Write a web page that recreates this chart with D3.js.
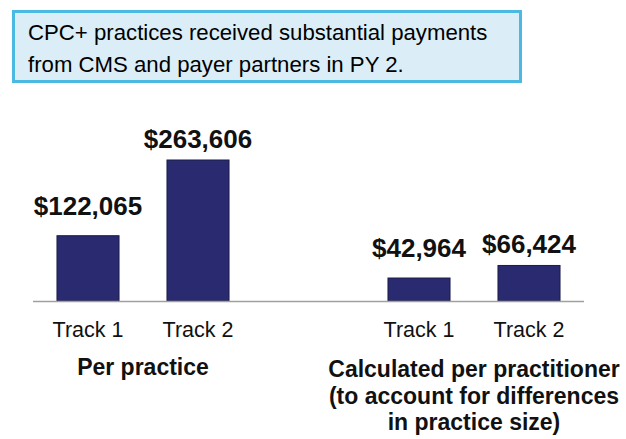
<!DOCTYPE html>
<html>
<head>
<meta charset="utf-8">
<script src="https://cdn.jsdelivr.net/npm/d3@7"></script>
<style>
  html, body { margin: 0; padding: 0; background: #fff; }
  svg { display: block; }
  text { font-family: "Liberation Sans", Arial, sans-serif; }
</style>
</head>
<body>
<svg id="chart" width="626" height="439"></svg>
<script>
// ---- data ----
const titleLines = ["CPC+ practices received substantial payments", "from CMS and payer partners in PY 2."];
const groups = ["Per practice", "Calculated per practitioner"];
const groupLabelLines = [
  ["Per practice"],
  ["Calculated per practitioner", "(to account for differences", "in practice size)"]
];
const tracks = ["Track 1", "Track 2"];
const perPractice = [122065, 263606];
const perPractitioner = [42964, 66424];
const seriesByGroup = [perPractice, perPractitioner];

// ---- layout ----
const svg = d3.select("#chart");
const baseY = 301;

// Title box
svg.append("rect")
  .attr("x", 13.5).attr("y", 11.5)
  .attr("width", 507).attr("height", 70)
  .attr("fill", "#dbeef8")
  .attr("stroke", "#4cb9e3")
  .attr("stroke-width", 3);

svg.append("g").selectAll("text")
  .data(titleLines)
  .join("text")
  .attr("x", 28)
  .attr("y", (d, i) => 40 + i * 32)
  .attr("font-size", 22.2)
  .attr("fill", "#000")
  .text(d => d);

// Scales
const xGroup = d3.scalePoint().domain(groups).range([143, 474]);
const xTrack = d3.scaleBand().domain(tracks).range([-110, 110])
  .paddingInner(0.436).paddingOuter(0.218);
const yMax = d3.max(seriesByGroup.flat());
const y = d3.scaleLinear().domain([0, yMax]).range([baseY, 160]);

const rows = [];
groups.forEach((g, gi) => {
  tracks.forEach((t, ti) => {
    rows.push({ group: g, track: t, value: seriesByGroup[gi][ti] });
  });
});

const fmt = d3.format("$,");
const labelGap = { "Track 1": 21, "Track 2": 12.5 };

// Bars
svg.append("g").selectAll("rect")
  .data(rows)
  .join("rect")
  .attr("x", d => xGroup(d.group) + xTrack(d.track))
  .attr("y", d => y(d.value))
  .attr("width", xTrack.bandwidth())
  .attr("height", d => y(0) - y(d.value))
  .attr("fill", "#2a2a70")
  .attr("stroke", "#1c1c48")
  .attr("stroke-width", 1);

// Baseline axis line
svg.append("line")
  .attr("x1", 33).attr("x2", 584)
  .attr("y1", y(0) + 0.5).attr("y2", y(0) + 0.5)
  .attr("stroke", "#a0a0a0")
  .attr("stroke-width", 1.6);

// Value labels
svg.append("g").selectAll("text")
  .data(rows)
  .join("text")
  .attr("x", d => xGroup(d.group) + xTrack(d.track) + xTrack.bandwidth() / 2)
  .attr("y", d => y(d.value) - labelGap[d.track])
  .attr("text-anchor", "middle")
  .attr("font-size", 26)
  .attr("font-weight", "bold")
  .attr("fill", "#111")
  .text(d => fmt(d.value));

// Track labels
svg.append("g").selectAll("text")
  .data(rows)
  .join("text")
  .attr("x", d => xGroup(d.group) + xTrack(d.track) + xTrack.bandwidth() / 2)
  .attr("y", 337)
  .attr("text-anchor", "middle")
  .attr("font-size", 21.5)
  .attr("fill", "#111")
  .text(d => d.track);

// Group labels
groups.forEach((g, gi) => {
  svg.append("g").selectAll("text")
    .data(groupLabelLines[gi])
    .join("text")
    .attr("x", xGroup(g))
    .attr("y", (d, i) => (gi === 0 ? 375 : 377) + i * 26.5)
    .attr("text-anchor", "middle")
    .attr("font-size", 23)
    .attr("font-weight", "bold")
    .attr("fill", "#111")
    .text(d => d);
});
</script>
</body>
</html>
